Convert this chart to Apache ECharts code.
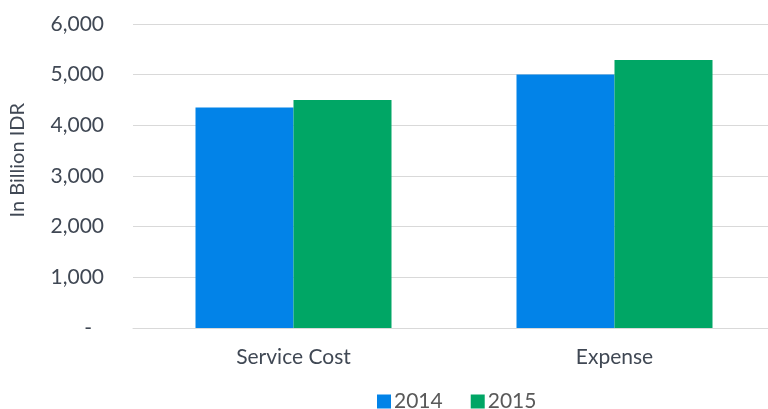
<!DOCTYPE html>
<html>
<head>
<meta charset="utf-8">
<style>
  html, body { margin: 0; padding: 0; background: #ffffff; }
  #chart { width: 768px; height: 409px; }
</style>
<script src="https://cdn.jsdelivr.net/npm/echarts@6/dist/echarts.min.js"></script>
</head>
<body>
<div id="chart"></div>
<script>
// Categories and yearly values (billion IDR)
const categories = ['Service Cost', 'Expense'];
const values2014 = [4350, 5005];
const values2015 = [4500, 5290];
const seriesNames = ['2014', '2015'];
const yTicks = { min: 0, max: 6000, interval: 1000 };

const FONT = 'Lato, "Noto Sans", sans-serif';
const TEXT = '#404854';

const chart = echarts.init(document.getElementById('chart'));
chart.setOption({
  animation: false,
  textStyle: { fontFamily: FONT },
  grid: { left: 133, top: 24, width: 642, height: 304, containLabel: false, outerBoundsMode: 'none' },
  legend: {
    data: seriesNames,
    left: 372,
    top: 386,
    icon: 'rect',
    itemWidth: 14,
    itemHeight: 14,
    itemGap: 28,
    textStyle: { fontFamily: FONT, fontSize: 21, color: '#595959', padding: [0, 0, 0, -2] }
  },
  xAxis: {
    type: 'category',
    data: categories,
    axisLine: { show: true, lineStyle: { color: '#d9d9d9', width: 1 } },
    axisTick: { show: false },
    axisLabel: { fontFamily: FONT, fontSize: 21, color: TEXT, margin: 19 }
  },
  yAxis: {
    type: 'value',
    min: yTicks.min,
    max: yTicks.max,
    interval: yTicks.interval,
    axisLine: { show: false },
    axisTick: { show: false },
    splitLine: { lineStyle: { color: '#d9d9d9', width: 1 } },
    axisLabel: {
      fontFamily: FONT,
      fontSize: 21,
      color: TEXT,
      margin: 29,
      formatter: function (v) {
        return v === 0 ? '{z|-}' : v.toLocaleString('en-US');
      },
      rich: { z: { fontFamily: FONT, fontSize: 21, color: TEXT, padding: [0, 12, 0, 0] } }
    }
  },
  graphic: [{
    type: 'text',
    left: 8,
    top: 103,
    rotation: Math.PI / 2,
    style: { text: 'In Billion IDR', font: '20px ' + FONT, fill: TEXT }
  }],
  series: [
    { name: seriesNames[0], type: 'bar', data: values2014, barWidth: 98, barGap: '0%', itemStyle: { color: '#0283E8' } },
    { name: seriesNames[1], type: 'bar', data: values2015, barWidth: 98, barGap: '0%', itemStyle: { color: '#00A665' } }
  ]
});
</script>
</body>
</html>
